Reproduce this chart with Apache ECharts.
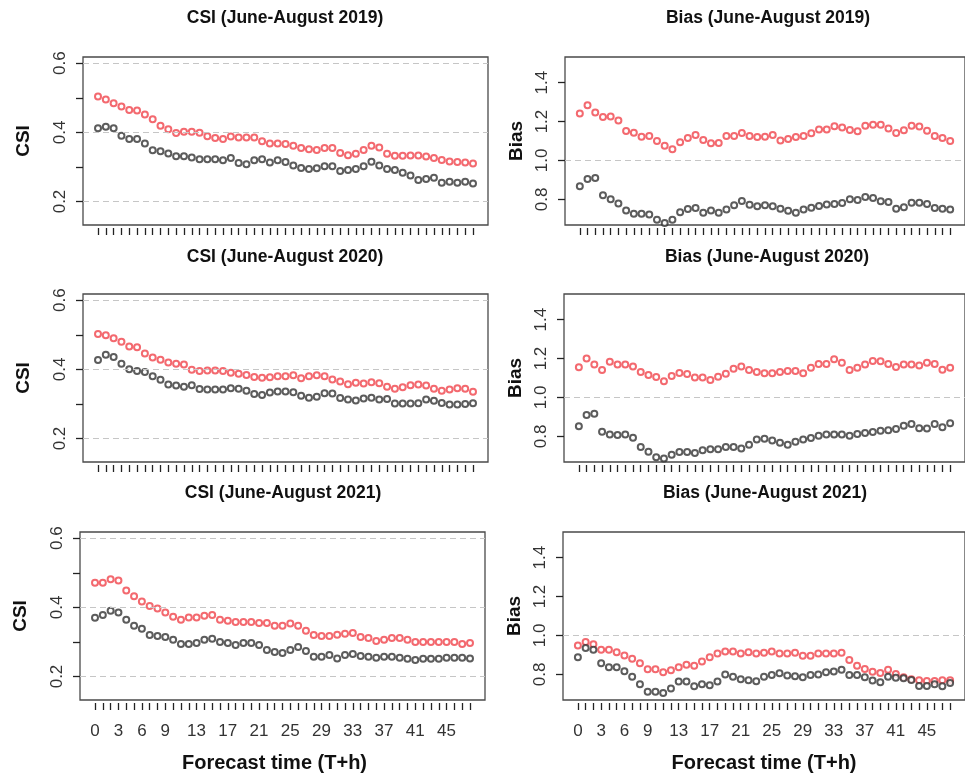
<!DOCTYPE html>
<html>
<head>
<meta charset="utf-8">
<script src="https://cdn.jsdelivr.net/npm/echarts@6/dist/echarts.min.js"></script>
<style>
html,body{margin:0;padding:0;background:#fff;}
#chart{width:965px;height:780px;}
</style>
</head>
<body>
<div id="chart"></div>
<script>
// ---- data ----
const HOURS = [0,1,2,3,4,5,6,7,8,9,10,11,12,13,14,15,16,17,18,19,20,21,22,23,24,25,26,27,28,29,30,31,32,33,34,35,36,37,38,39,40,41,42,43,44,45,46,47,48];
const HOUR_LABELS = [0,3,6,9,13,17,21,25,29,33,37,41,45];
const CSI_TICKS = [0.2,0.3,0.4,0.5,0.6];
const CSI_TICK_LABELS = [0.2,0.4,0.6];
const CSI_REF_LINES = [0.2,0.4,0.6];
const BIAS_TICKS = [0.8,1.0,1.2,1.4];
const BIAS_TICK_LABELS = [0.8,1.0,1.2,1.4];
const BIAS_REF_LINES = [1.0];

const CSI_2019_RED = [0.504,0.495,0.484,0.475,0.465,0.463,0.452,0.438,0.419,0.409,0.398,0.402,0.402,0.399,0.389,0.384,0.381,0.388,0.385,0.385,0.385,0.374,0.368,0.368,0.366,0.361,0.355,0.351,0.349,0.355,0.355,0.340,0.334,0.338,0.349,0.361,0.356,0.338,0.332,0.332,0.333,0.333,0.330,0.326,0.320,0.316,0.314,0.313,0.310];
const CSI_2019_BLACK = [0.412,0.416,0.412,0.390,0.381,0.381,0.368,0.348,0.345,0.339,0.331,0.331,0.327,0.322,0.322,0.322,0.319,0.326,0.311,0.308,0.319,0.322,0.313,0.319,0.314,0.304,0.297,0.294,0.296,0.302,0.302,0.288,0.291,0.294,0.302,0.315,0.304,0.294,0.291,0.283,0.275,0.262,0.265,0.269,0.254,0.257,0.254,0.257,0.252];
const BIAS_2019_RED = [1.241,1.284,1.247,1.224,1.226,1.205,1.152,1.143,1.122,1.126,1.100,1.076,1.057,1.093,1.116,1.131,1.105,1.088,1.090,1.126,1.126,1.141,1.126,1.121,1.122,1.131,1.103,1.110,1.121,1.126,1.140,1.159,1.159,1.176,1.169,1.157,1.150,1.179,1.184,1.184,1.164,1.141,1.155,1.178,1.174,1.153,1.126,1.116,1.100];
const BIAS_2019_BLACK = [0.867,0.905,0.910,0.821,0.800,0.778,0.743,0.726,0.726,0.722,0.695,0.678,0.695,0.734,0.750,0.755,0.731,0.743,0.731,0.748,0.769,0.791,0.772,0.764,0.769,0.764,0.752,0.741,0.731,0.748,0.757,0.766,0.774,0.776,0.781,0.800,0.797,0.812,0.807,0.790,0.786,0.752,0.759,0.783,0.783,0.776,0.755,0.752,0.748];
const CSI_2020_RED = [0.502,0.499,0.490,0.480,0.466,0.464,0.446,0.434,0.428,0.420,0.416,0.414,0.399,0.395,0.397,0.397,0.395,0.390,0.387,0.384,0.378,0.376,0.377,0.380,0.380,0.383,0.374,0.380,0.383,0.380,0.371,0.365,0.357,0.361,0.359,0.363,0.360,0.350,0.344,0.348,0.354,0.356,0.353,0.344,0.338,0.342,0.345,0.344,0.335];
const CSI_2020_BLACK = [0.427,0.442,0.436,0.416,0.400,0.395,0.392,0.380,0.370,0.356,0.353,0.350,0.354,0.343,0.342,0.342,0.342,0.345,0.344,0.338,0.329,0.326,0.333,0.336,0.336,0.334,0.324,0.318,0.321,0.331,0.330,0.317,0.313,0.310,0.316,0.318,0.313,0.314,0.301,0.301,0.301,0.302,0.313,0.309,0.303,0.298,0.298,0.300,0.302];
const BIAS_2020_RED = [1.155,1.200,1.169,1.141,1.183,1.169,1.169,1.159,1.131,1.116,1.105,1.083,1.110,1.126,1.121,1.103,1.103,1.090,1.107,1.122,1.148,1.159,1.141,1.131,1.124,1.124,1.131,1.136,1.136,1.124,1.153,1.172,1.172,1.197,1.179,1.141,1.153,1.169,1.188,1.186,1.172,1.157,1.169,1.169,1.164,1.178,1.172,1.143,1.153];
const BIAS_2020_BLACK = [0.852,0.910,0.916,0.824,0.809,0.807,0.810,0.793,0.745,0.721,0.693,0.686,0.705,0.719,0.719,0.714,0.729,0.734,0.733,0.745,0.745,0.738,0.757,0.784,0.788,0.778,0.767,0.757,0.772,0.784,0.791,0.803,0.810,0.810,0.809,0.803,0.812,0.817,0.822,0.829,0.831,0.838,0.855,0.864,0.841,0.840,0.864,0.847,0.867];
const CSI_2021_RED = [0.471,0.471,0.481,0.478,0.449,0.432,0.417,0.404,0.397,0.385,0.373,0.364,0.371,0.371,0.376,0.378,0.364,0.361,0.358,0.358,0.358,0.355,0.355,0.347,0.347,0.353,0.347,0.332,0.320,0.317,0.317,0.321,0.324,0.326,0.314,0.311,0.303,0.306,0.311,0.311,0.306,0.300,0.300,0.300,0.300,0.300,0.300,0.294,0.297];
const CSI_2021_BLACK = [0.370,0.378,0.390,0.385,0.364,0.347,0.338,0.320,0.317,0.314,0.306,0.294,0.294,0.297,0.306,0.309,0.300,0.297,0.291,0.297,0.297,0.291,0.277,0.271,0.268,0.277,0.285,0.274,0.257,0.257,0.262,0.252,0.262,0.265,0.259,0.257,0.254,0.257,0.257,0.254,0.251,0.248,0.251,0.251,0.251,0.254,0.254,0.254,0.252];
const BIAS_2021_RED = [0.948,0.966,0.955,0.926,0.926,0.914,0.897,0.880,0.857,0.826,0.826,0.811,0.821,0.837,0.849,0.844,0.866,0.888,0.907,0.917,0.917,0.907,0.914,0.907,0.911,0.917,0.907,0.907,0.911,0.895,0.895,0.907,0.907,0.907,0.911,0.874,0.844,0.828,0.813,0.807,0.823,0.802,0.785,0.775,0.770,0.766,0.766,0.770,0.770];
const BIAS_2021_BLACK = [0.888,0.936,0.926,0.857,0.837,0.837,0.816,0.788,0.749,0.711,0.711,0.704,0.727,0.763,0.763,0.739,0.749,0.744,0.763,0.799,0.787,0.775,0.770,0.764,0.787,0.797,0.806,0.794,0.790,0.785,0.797,0.799,0.811,0.814,0.823,0.797,0.797,0.785,0.768,0.759,0.788,0.783,0.780,0.771,0.740,0.740,0.749,0.739,0.756];

const TITLES = ['CSI (June-August 2019)','Bias (June-August 2019)','CSI (June-August 2020)','Bias (June-August 2020)','CSI (June-August 2021)','Bias (June-August 2021)'];
const X_TITLE = 'Forecast time (T+h)';

// ---- layout / style ----
const NARROW = "'Liberation Sans Narrow','Arial Narrow','Liberation Sans',Arial,sans-serif";
const SANS = "'Liberation Sans',Arial,Helvetica,sans-serif";
const RED = '#f0434b';
const BLACK = '#333333';
const W = 405, H = 168;
const panels = [
  {kind:'csi',  red:CSI_2019_RED,  black:CSI_2019_BLACK,  left:83,  top:57,  tx:285, ty:18},
  {kind:'bias', red:BIAS_2019_RED, black:BIAS_2019_BLACK, left:565, top:57,  tx:768, ty:18},
  {kind:'csi',  red:CSI_2020_RED,  black:CSI_2020_BLACK,  left:83,  top:294, tx:285, ty:257},
  {kind:'bias', red:BIAS_2020_RED, black:BIAS_2020_BLACK, left:564, top:294, tx:767, ty:257},
  {kind:'csi',  red:CSI_2021_RED,  black:CSI_2021_BLACK,  left:80,  top:532, tx:283, ty:493},
  {kind:'bias', red:BIAS_2021_RED, black:BIAS_2021_BLACK, left:563, top:532, tx:765, ty:493}
];

const grid = [], xAxis = [], yAxis = [], series = [], title = [];
panels.forEach((p, k) => {
  const csi = p.kind === 'csi';
  const bottom = k >= 4;
  grid.push({left:p.left, top:p.top, width:W, height:H, show:true, borderColor:'#4a4a4a', borderWidth:1.3, backgroundColor:'transparent'});
  title.push({text:TITLES[k], left:p.tx, top:p.ty - 9, textAlign:'center', padding:0,
    textStyle:{fontFamily:SANS, fontWeight:'bold', fontSize:17.5, color:'#111'}});
  xAxis.push({
    gridIndex:k, type:'value', min:-1.92, max:49.92, offset:3,
    axisLine:{show:false, onZero:false},
    axisTick:{show:true, customValues:HOURS, length:7, lineStyle:{color:'#222', width:1.3}},
    axisLabel:{show:bottom, customValues:HOUR_LABELS, margin:20, fontFamily:NARROW, fontSize:17, color:'#333'},
    splitLine:{show:false},
    name: bottom ? X_TITLE : '', nameLocation:'middle', nameGap:50,
    nameTextStyle:{fontFamily:SANS, fontWeight:'bold', fontSize:20, color:'#111', padding: k===4 ? [0,16,0,0] : 0}
  });
  yAxis.push({
    gridIndex:k, type:'value',
    min: csi ? 0.132 : 0.668, max: csi ? 0.618 : 1.532,
    axisLine:{show:false, onZero:false},
    axisTick:{show:true, customValues: csi ? CSI_TICKS : BIAS_TICKS, length:7, lineStyle:{color:'#222', width:1.3}},
    axisLabel:{customValues: csi ? CSI_TICK_LABELS : BIAS_TICK_LABELS, rotate:90, margin:14,
      fontFamily:NARROW, fontSize:17, color:'#333', formatter:v => Number(v).toFixed(1)},
    splitLine:{show:false},
    name: csi ? 'CSI' : 'Bias', nameLocation:'middle', nameRotate:90, nameGap: csi ? 50 : 39,
    nameTextStyle:{fontFamily:NARROW, fontWeight:'bold', fontSize:19, color:'#111'}
  });
  const refs = csi ? CSI_REF_LINES : BIAS_REF_LINES;
  series.push({
    type:'scatter', name:'Red', xAxisIndex:k, yAxisIndex:k,
    data: HOURS.map((h, i) => [h, p.red[i]]),
    symbol:'emptyCircle', symbolSize:6,
    itemStyle:{color:RED, borderColor:RED, borderWidth:1.1},
    markLine:{silent:true, symbol:['none','none'], label:{show:false}, animation:false,
      lineStyle:{type:[6,4], color:'#c6c6c6', width:1.2},
      data: refs.map(v => ({yAxis:v}))},
    z:2
  });
  series.push({
    type:'scatter', name:'Black', xAxisIndex:k, yAxisIndex:k,
    data: HOURS.map((h, i) => [h, p.black[i]]),
    symbol:'emptyCircle', symbolSize:6,
    itemStyle:{color:BLACK, borderColor:BLACK, borderWidth:1.1},
    z:3
  });
});

const chart = echarts.init(document.getElementById('chart'), null, {renderer:'canvas'});
chart.setOption({animation:false, backgroundColor:'#fff', title, grid, xAxis, yAxis, series});
</script>
</body>
</html>
